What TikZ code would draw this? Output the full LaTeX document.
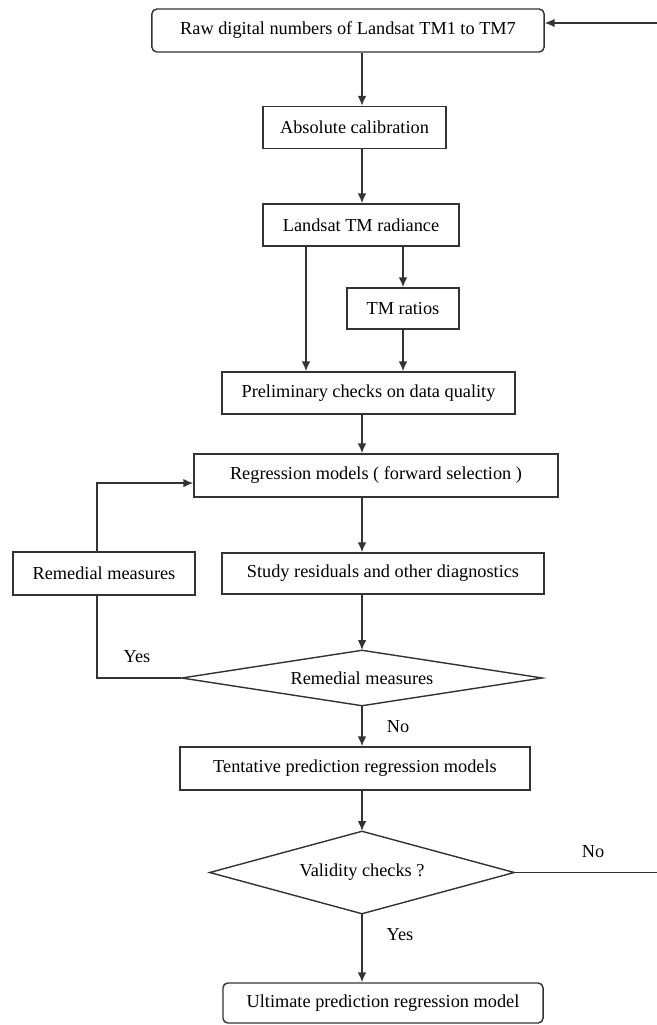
\documentclass[tikz,border=0pt]{standalone}
\usepackage{fontspec}
\setmainfont{Liberation Serif}
\usetikzlibrary{arrows,arrows.meta,shapes,positioning}
\tikzset{
	every node/.style={
		font=\fontsize{13}{15}\selectfont
	},
	process/.style={
		shape=rectangle,
		minimum height=1.05cm,
		inner sep=0pt,
		text centered,
		draw=black!80,
		line width=1pt
	},
	rounded process/.style={
		process,
		rounded corners=0.12cm
	},
	decision/.style={
		shape=diamond,
		inner sep=0pt,
		text centered,
		draw=black!80,
		line width=1pt
	},
	answer/.style={
		inner sep=0pt
	},
	myarrow/.style={-{Latex[length=7pt,width=6pt]}, draw=black!80, line width=1pt},
	myline/.style={draw=black!80, line width=1pt},
}
\begin{document}
\begin{tikzpicture}[x=0.025cm, y=-0.025cm]
\useasboundingbox (0,0) rectangle (657,1025);

% main column and side lines
\coordinate (mx) at (362,0);
\coordinate (lx) at (306,0);
\coordinate (loopx) at (97,0);
\coordinate (fb) at (662,23);

\node [rounded process, minimum width=9.8cm, minimum height=1.075cm] (raw) at (348,30.5) {Raw digital numbers of Landsat TM1 to TM7};
\node [process, minimum width=4.575cm] (abs) at (354.5,127.5) {Absolute calibration};
\node [process, minimum width=4.9cm] (rad) at (361,225) {Landsat TM radiance};
\node [process, minimum width=2.8cm, minimum height=1.025cm] (ratio) at (403,308.5) {TM ratios};
\node [process, minimum width=7.325cm] (pre) at (368.5,393) {Preliminary checks on data quality};
\node [process, minimum width=9.1cm, minimum height=1.075cm] (reg) at (376,475.5) {Regression models ( forward selection )};
\node [process, minimum width=4.55cm, minimum height=1.075cm] (remb) at (104,573.5) {Remedial measures};
\node [process, minimum width=8.05cm, minimum height=1.025cm] (study) at (383,573.5) {Study residuals and other diagnostics};
\node [decision, aspect=6, minimum width=9.025cm, minimum height=1.4cm] (dia1) at (362,678) {Remedial measures};
\node [process, minimum width=8.75cm, minimum height=1.075cm] (tent) at (355,768.5) {Tentative prediction regression models};
\node [decision, aspect=3.6, minimum width=7.625cm, minimum height=2.075cm] (dia2) at (362,872.5) {Validity checks ?};
\node [rounded process, minimum width=8cm, minimum height=1cm] (ult) at (383,1003) {Ultimate prediction regression model};

\node [answer] (yes1) at (137,657) {Yes};
\node [answer] (no1) at (398,727) {No};
\node [answer] (no2) at (593,852) {No};
\node [answer] (yes2) at (400,935) {Yes};

% diamond tips
\coordinate (d1top) at (362,650);
\coordinate (d1bot) at (362,706);
\coordinate (d2top) at (362,831);
\coordinate (d2bot) at (362,914);

\draw [myarrow] (raw.south -| mx) -- (abs.north -| mx);
\draw [myarrow] (abs.south -| mx) -- (rad.north -| mx);
\draw [myarrow] (rad.south -| lx) -- (pre.north -| lx);
\draw [myarrow] (rad.south -| ratio) -- (ratio.north);
\draw [myarrow] (ratio.south) -- (pre.north -| ratio);
\draw [myarrow] (pre.south -| mx) -- (reg.north -| mx);
\draw [myarrow] (reg.south -| mx) -- (study.north -| mx);
\draw [myarrow] (study.south -| mx) -- (d1top);
\draw [myarrow] (d1bot) -- (tent.north -| mx);
\draw [myarrow] (tent.south -| mx) -- (d2top);
\draw [myarrow] (d2bot) -- (ult.north -| mx);

% loop back through remedial measures
\draw [myline] (dia1.west) -| (remb.south -| loopx);
\draw [myarrow] (remb.north -| loopx) |- ([yshift=-0.19cm]reg.west);

% loop back to the start
\draw [myarrow] (dia2.east) -| (fb) -- (fb -| raw.east);

\end{tikzpicture}
\end{document}
